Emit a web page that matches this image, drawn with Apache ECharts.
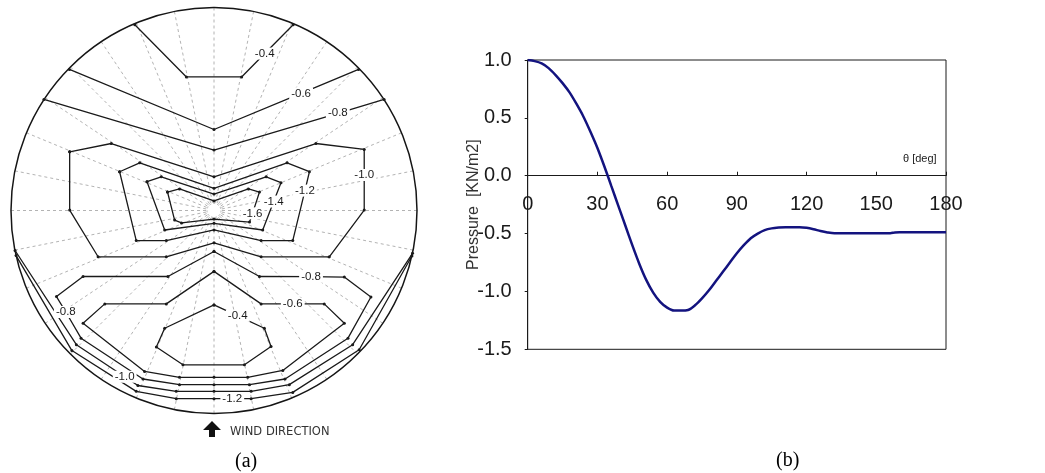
<!DOCTYPE html>
<html>
<head>
<meta charset="utf-8">
<script src="https://cdn.jsdelivr.net/npm/echarts@6/dist/echarts.min.js"></script>
<style>
  html, body { margin: 0; padding: 0; background: #fff; }
  #chart { width: 1045px; height: 473px; }
</style>
</head>
<body>
<div id="chart"></div>
<script>
// ---- (a) roof plan: pressure contours, coordinates normalised by roof radius ----
// A third element of 1 marks the point where the level label sits on the line.
const cTop04 = [[-0.39,0.915],[-0.136,0.658],[0.136,0.658],[0.25,0.773,1],[0.39,0.915]];
const cTop06 = [[-0.712,0.695],[0,0.399],[0.429,0.577,1],[0.712,0.695]];
const cTop08 = [[-0.838,0.547],[0,0.298],[0.61,0.479,1],[0.838,0.547]];
const cMid10 = [[-0.711,0.289],[-0.506,0.33],[0,0.166],[0.502,0.33],[0.74,0.301],[0.74,0.175,1],[0.74,0.002],
                [0.568,-0.228],[0.232,-0.228],[0,-0.159],[-0.235,-0.228],[-0.571,-0.228],[-0.711,0.002],[-0.711,0.289]];
const cMid12 = [[-0.465,0.191],[-0.366,0.235],[0,0.109],[0.36,0.235],[0.47,0.191],[0.448,0.098,1],[0.388,-0.148],
                [0.232,-0.148],[0,-0.096],[-0.235,-0.148],[-0.383,-0.148],[-0.465,0.191]];
const cMid14 = [[-0.33,0.142],[-0.26,0.166],[0,0.081],[0.257,0.166],[0.33,0.137],[0.294,0.044,1],[0.24,-0.096],
                [0,-0.063],[-0.243,-0.096],[-0.33,0.142]];
const cMid16 = [[-0.229,0.091],[-0.17,0.106],[0,0.047],[0.17,0.106],[0.224,0.091],[0.19,-0.014,1],[0.175,-0.057],
                [0,-0.042],[-0.16,-0.061],[-0.194,-0.047],[-0.229,0.091]];
const cBot04 = [[0,-0.465],[0.117,-0.519,1],[0.248,-0.58],[0.281,-0.67],[0.15,-0.76],[-0.153,-0.76],
                [-0.284,-0.672],[-0.243,-0.58],[0,-0.465]];
const cBot06 = [[0,-0.3],[0.232,-0.46],[0.388,-0.46,1],[0.543,-0.46],[0.642,-0.555],[0.339,-0.788],[0.166,-0.822],
                [0,-0.822],[-0.17,-0.822],[-0.342,-0.793],[-0.645,-0.555],[-0.538,-0.46],[-0.235,-0.46],[0,-0.3]];
const cBot08 = [[0,-0.202],[0.224,-0.325],[0.478,-0.326,1],[0.642,-0.328],[0.773,-0.426],[0.66,-0.629],[0.35,-0.83],
                [0.175,-0.858],[0,-0.858],[-0.17,-0.858],[-0.35,-0.83],[-0.655,-0.629],[-0.73,-0.5,1],[-0.776,-0.424],
                [-0.645,-0.325],[-0.227,-0.325],[0,-0.202]];
const cBot10 = [[-0.98,-0.197],[-0.678,-0.661],[-0.44,-0.819,1],[-0.375,-0.862],[-0.186,-0.891],[0,-0.891],
                [0.183,-0.891],[0.371,-0.858],[0.683,-0.661],[0.978,-0.211]];
const cBot12 = [[-0.975,-0.222],[-0.70,-0.69],[-0.383,-0.891],[-0.186,-0.927],[0,-0.927],[0.09,-0.927,1],
                [0.183,-0.927],[0.388,-0.896],[0.715,-0.686],[0.975,-0.224]];

const contourLevels = [-0.4, -0.6, -0.8, -1.0, -1.2, -1.4, -1.6, -0.4, -0.6, -0.8, -1.0, -1.2];
const contourLines  = [cTop04, cTop06, cTop08, cMid10, cMid12, cMid14, cMid16, cBot04, cBot06, cBot08, cBot10, cBot12];

// ---- (b) pressure distribution along the section ----
const thetaDeg = [0,3,6,9,12,15,18,21,24,27,30,33,36,39,42,45,48,51,54,57,60,63,66,69,72,75,78,81,84,87,90,
                  93,96,99,102,105,108,111,114,117,120,123,126,129,132,140,150,156,158,160,170,180];
const pressure = [1.00,0.99,0.97,0.93,0.87,0.80,0.72,0.62,0.51,0.38,0.24,0.08,-0.09,-0.26,-0.43,-0.60,-0.76,
                  -0.90,-1.01,-1.09,-1.14,-1.165,-1.165,-1.16,-1.12,-1.06,-0.99,-0.91,-0.83,-0.75,-0.67,-0.60,
                  -0.54,-0.50,-0.47,-0.455,-0.448,-0.445,-0.445,-0.445,-0.45,-0.462,-0.478,-0.49,-0.497,-0.497,
                  -0.497,-0.497,-0.49,-0.488,-0.488,-0.488];
const thetaRange = [0, 180, 30];          // min, max, step
const pressureRange = [-1.5, 1.0, 0.5];   // min, max, step

// roof plan geometry on the page
const CX = 214, CY = 210.5, R = 203, HOLE = 7;
const INK = '#1a1a1a';
// plot box of (b)
const PB = { left: 527.7, top: 60, width: 418.3, height: 289.3 };
// the theta axis runs along pressure = 0
const zeroOffset = -PB.height * (0 - pressureRange[0]) / (pressureRange[1] - pressureRange[0]);

function contourSeries(level, pts) {
  return {
    type: 'line',
    xAxisIndex: 0, yAxisIndex: 0,
    symbol: 'circle', symbolSize: 3, showAllSymbol: true,
    lineStyle: { color: INK, width: 1.3 },
    itemStyle: { color: INK },
    label: { show: false },
    emphasis: { disabled: true },
    silent: true,
    data: pts.map(p => p[2] ? {
      value: [p[0], p[1]],
      symbolSize: 0,
      label: {
        show: true, position: 'inside', formatter: level.toFixed(1),
        fontFamily: 'Liberation Sans, Arial, sans-serif', fontSize: 11.5, color: INK,
        backgroundColor: '#fff', padding: [0, 2]
      }
    } : [p[0], p[1]])
  };
}

const hiddenAngle = {
  type: 'value', min: 0, max: 360, interval: 11.25, startAngle: 90,
  axisTick: { show: false }, axisLabel: { show: false }
};

const option = {
  animation: false,
  backgroundColor: '#fff',
  polar: [
    { center: [CX, CY], radius: [HOLE, R] },
    { center: [CX, CY], radius: R },
    { center: [CX, CY], radius: HOLE }
  ],
  angleAxis: [
    Object.assign({}, hiddenAngle, { polarIndex: 0, axisLine: { show: false },
      splitLine: { show: true, lineStyle: { color: '#a0a0a0', width: 0.8, type: [3, 3] } } }),
    Object.assign({}, hiddenAngle, { polarIndex: 1, splitLine: { show: false },
      axisLine: { show: true, lineStyle: { color: '#151515', width: 1.5 } } }),
    Object.assign({}, hiddenAngle, { polarIndex: 2, splitLine: { show: false },
      axisLine: { show: true, lineStyle: { color: '#b5b5b5', width: 1, type: [2, 2] } } })
  ],
  radiusAxis: [
    { polarIndex: 0, show: false, min: 0, max: 1 },
    { polarIndex: 1, show: false, min: 0, max: 1 },
    { polarIndex: 2, show: false, min: 0, max: 1 }
  ],
  grid: [
    { left: CX - R, top: CY - R, width: 2 * R, height: 2 * R, show: false },
    Object.assign({ show: true, borderColor: '#1a1a1a', borderWidth: 1 }, PB)
  ],
  xAxis: [
    { gridIndex: 0, type: 'value', min: -1, max: 1, show: false },
    { gridIndex: 1, type: 'value', min: thetaRange[0], max: thetaRange[1], interval: thetaRange[2],
      position: 'bottom', offset: zeroOffset,
      axisLine: { show: true, onZero: false, lineStyle: { color: '#1a1a1a', width: 1 } },
      axisTick: { show: true, inside: true, length: 4, lineStyle: { color: '#1a1a1a' } },
      axisLabel: { margin: 19, showMinLabel: true, showMaxLabel: true, fontSize: 20, lineHeight: 20,
        fontFamily: 'Liberation Sans Narrow, Arial Narrow, Liberation Sans, sans-serif', color: '#1a1a1a' },
      splitLine: { show: false } }
  ],
  yAxis: [
    { gridIndex: 0, type: 'value', min: -1, max: 1, show: false },
    { gridIndex: 1, type: 'value', min: pressureRange[0], max: pressureRange[1], interval: pressureRange[2],
      name: 'Pressure  [KN/m2]', nameLocation: 'middle', nameGap: 46, nameMoveOverlap: false,
      nameTextStyle: { fontSize: 16, color: '#333', fontFamily: 'Liberation Sans, Arial, sans-serif' },
      axisLine: { show: true, lineStyle: { color: '#1a1a1a', width: 1 } },
      axisTick: { show: true, length: 3, lineStyle: { color: '#1a1a1a' } },
      axisLabel: { margin: 16, fontSize: 20, formatter: v => v.toFixed(1),
        fontFamily: 'Liberation Sans Narrow, Arial Narrow, Liberation Sans, sans-serif', color: '#1a1a1a' },
      splitLine: { show: false } }
  ],
  title: [
    { text: 'θ [deg]', left: 898, top: 148,
      textStyle: { fontSize: 11, fontWeight: 'normal', color: '#1a1a1a', fontFamily: 'Liberation Sans, Arial, sans-serif' } }
  ],
  graphic: [
    { type: 'polygon', silent: true,
      shape: { points: [[203,430],[212,421],[221,430],[215,430],[215,437],[209,437],[209,430]] },
      style: { fill: '#111' } },
    { type: 'text', left: 230, top: 426, silent: true,
      style: { text: 'WIND DIRECTION', fontSize: 11.5, fill: '#333', fontFamily: 'DejaVu Sans, sans-serif' } },
    { type: 'text', left: 235, top: 452, silent: true,
      style: { text: '(a)', fontSize: 20, fill: '#000', fontFamily: 'Liberation Serif, Times New Roman, serif' } },
    { type: 'text', left: 776, top: 451, silent: true,
      style: { text: '(b)', fontSize: 20, fill: '#000', fontFamily: 'Liberation Serif, Times New Roman, serif' } }
  ],
  series: contourLines.map((pts, i) => contourSeries(contourLevels[i], pts)).concat([
    { type: 'line', xAxisIndex: 1, yAxisIndex: 1, symbol: 'none', smooth: 0.3,
      lineStyle: { color: '#13137f', width: 2.5 },
      data: thetaDeg.map((t, i) => [t, pressure[i]]) }
  ])
};

const chart = echarts.init(document.getElementById('chart'), null, { renderer: 'canvas' });
chart.setOption(option);
</script>
</body>
</html>
